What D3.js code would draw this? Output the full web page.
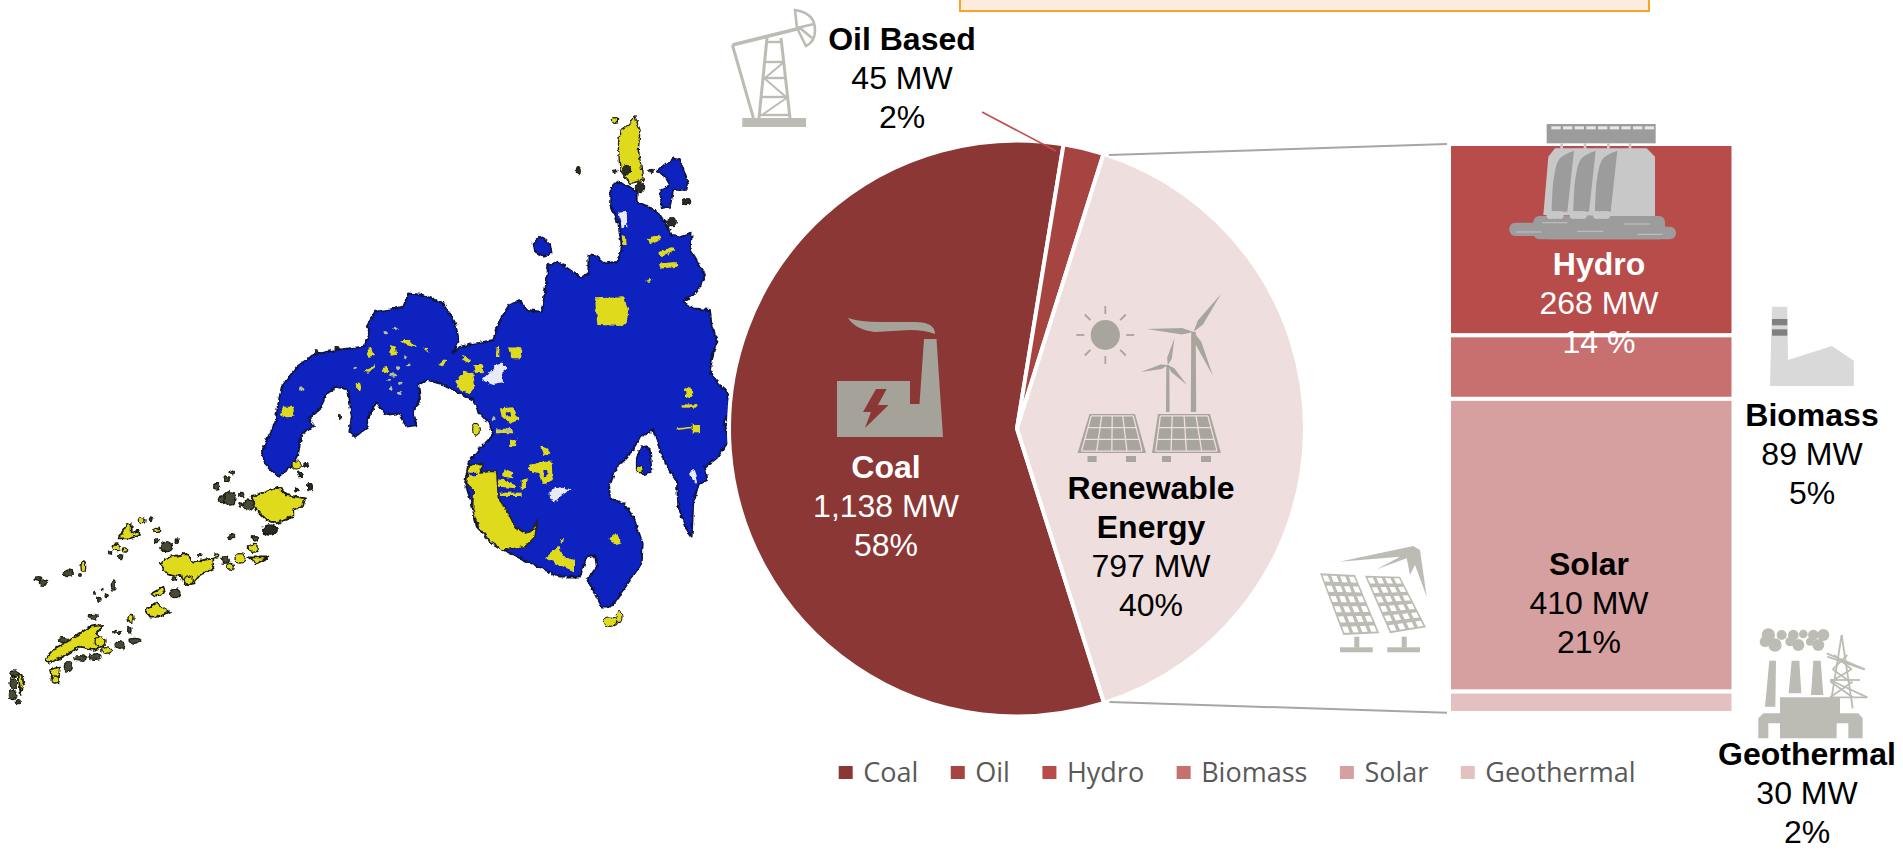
<!DOCTYPE html>
<html><head><meta charset="utf-8">
<script src="https://cdnjs.cloudflare.com/ajax/libs/d3/7.8.5/d3.min.js"></script>
<style>html,body{margin:0;padding:0;background:#fff;overflow:hidden}svg{display:block}text{font-family:"Liberation Sans",Arial,sans-serif}</style>
</head><body><svg id="c" width="1903" height="850"></svg>
<script>
// ---------- data ----------
const pieCategories = ["Coal", "Oil Based", "Renewable Energy"];
const pieValues = [1138, 45, 797];
const stackCategories = ["Hydro", "Biomass", "Solar", "Geothermal"];
const stackValues = [268, 89, 410, 30];
const legendItems = ["Coal", "Oil", "Hydro", "Biomass", "Solar", "Geothermal"];
const legendColors = ["#8B3735", "#A64442", "#B84C4A", "#C87070", "#D6A0A0", "#E3C1C1"];
const pieColors = ["#8B3735", "#A64442", "#EEDEDE"];
const stackColors = ["#B84C4A", "#C87070", "#D6A0A0", "#E3C1C1"];
const labelLines = [
  [["Oil Based",1],["45 MW",0],["2%",0]],
  [["Coal",1],["1,138 MW",0],["58%",0]],
  [["Renewable",1],["Energy",1],["797 MW",0],["40%",0]],
  [["Hydro",1],["268 MW",0],["14 %",0]],
  [["Solar",1],["410 MW",0],["21%",0]],
  [["Biomass",1],["89 MW",0],["5%",0]],
  [["Geothermal",1],["30 MW",0],["2%",0]]
];
const labelColors = ["#000","#fff","#000","#fff","#000","#000","#000"];
const labelAnchors = [[902,50],[886,478],[1151,499],[1599,275],[1589,575],[1812,426],[1807,765]];

// ---------- map geometry (traced outline, page px) ----------
const mainland = [[610.7,187.3],[616.7,181.7],[626.7,185],[636.7,191.7],[636.7,201.7],[648.3,206.7],[660,215],[666.7,225],[671.7,235],[681.7,236.7],[691.7,232.7],[690.7,250],[696.7,260],[705,275],[700,286.7],[693.3,295],[682.7,301.7],[693.3,308.3],[710,310],[711.7,326.7],[717.3,338.3],[713.3,353.3],[710,370],[718.3,383.3],[728.3,393.3],[728.3,413.3],[725,423.3],[728.3,441.7],[716.7,458.3],[705,466.7],[707.3,480],[698.3,485],[693.3,503.3],[691.7,536.7],[685,526.7],[678.3,506.7],[676.7,480],[666.7,466.7],[660,450],[653.3,430],[640,436.7],[636.7,443.3],[626.7,458.3],[616.7,466.7],[609.3,486.7],[610,498.3],[623.3,503.3],[633.3,516.7],[642.7,543.3],[641.7,563.3],[623.3,590],[611.7,606.7],[601.7,606.7],[595,593.3],[587.3,580],[596.7,566.7],[595,555],[586.7,556.7],[580,576.7],[560,576.7],[530,563.3],[503.3,550],[490,541.7],[476.7,526.7],[471.7,503.3],[465,483.3],[468.3,463.3],[480,448.3],[493.3,435],[490,425],[478.3,411.7],[473.3,400],[460,393.3],[440,383.3],[426.7,380],[418.3,385],[420,398.3],[413.3,411.7],[416.7,425],[406.7,426.7],[398.3,413.3],[385,415],[376.7,401.7],[366.7,420],[368.3,426.7],[355,436.7],[349.3,431.7],[351.7,416.7],[348.3,390],[336.7,386.7],[325,395],[321.7,406.7],[308.3,418.3],[315,426.7],[301.7,433.3],[298.3,453.3],[291.7,466.7],[278.3,476.7],[265,463.3],[261.7,451.7],[268.3,436.7],[275,423.3],[278.3,403.3],[281.7,386.7],[296.7,366.7],[313.3,355],[336.7,350],[363.3,346.7],[370,333.3],[366.7,326.7],[375,311.7],[390,309.3],[403.3,306.7],[408.3,293.3],[423.3,295],[443.3,303.3],[455,323.3],[459,340],[453.3,353.3],[460,346.7],[493.3,340],[498.3,323.3],[510,303.3],[520,300],[526.7,310],[541.7,311.7],[546.7,280],[548.3,265],[558.3,261.7],[570,270],[581.7,278.3],[588.3,273.3],[588.3,255],[596.7,256.7],[605,263.3],[618.3,261.7],[621.7,246.7],[618.3,223.3],[610,203.3]];
const crops = {a:[480,110],b:[260,290],c:[460,370],d:[0,470]};
const yellow = {
 a:[[[420,60],[445,45],[465,20],[480,60],[475,120],[490,210],[450,220],[420,180],[415,110]],
    [[345,565],[430,562],[445,600],[440,640],[430,648],[352,645]],
    [[503,385],[540,372],[545,388],[510,403]],[[535,430],[580,408],[585,422],[545,442]],[[538,460],[590,456],[592,470],[540,476]],[[495,515],[515,503],[510,515]],
    [[425,375],[438,380],[440,405],[428,405]],[[85,712],[125,715],[120,745],[95,745]],[[50,712],[58,712],[58,740],[48,738]]],
 b:[[[318,190],[330,170],[345,195],[325,200]],[[312,245],[345,222],[345,232],[325,248]],[[390,165],[405,170],[408,195],[392,197]],[[420,150],[450,150],[468,175],[440,165]],[[368,240],[380,225],[388,245],[372,250]],[[290,280],[300,275],[305,300],[292,300]],[[60,375],[70,350],[100,350],[103,380],[80,382]],[[490,175],[500,170],[505,190]],[[535,225],[555,208],[560,215],[545,228]],
    [[585,275],[610,245],[640,250],[645,290],[630,310],[600,300]],[[712,172],[718,172],[716,198],[708,195]],[[745,175],[775,172],[778,200],[755,205]],[[610,195],[630,210],[625,220],[610,210]],[[640,225],[670,225],[668,250],[645,248]]],
 c:[[[25,285],[70,280],[60,310],[85,305],[110,305],[115,385],[140,420],[165,470],[195,490],[220,480],[233,450],[225,500],[195,530],[160,535],[130,540],[90,515],[55,470],[38,420],[40,360],[20,340]],
    [[115,325],[165,345],[165,355],[115,350]],[[120,368],[185,368],[185,378],[120,378]],[[240,275],[275,275],[278,330],[250,345],[235,310],[205,300],[210,288]],[[130,295],[155,305],[160,325],[130,320]],[[120,115],[160,112],[178,150],[150,160],[125,140]],[[105,178],[155,175],[160,190],[110,190]],[[150,212],[170,208],[165,228],[150,230]],[[240,228],[260,235],[272,250],[250,258]],[[185,330],[205,325],[195,355],[185,358]],[[255,565],[295,530],[310,560],[345,570],[345,605],[310,590]],[[295,505],[312,505],[308,522]],[[445,505],[470,490],[485,520],[470,525]],[[675,60],[690,50],[700,70],[690,85],[678,80]],[[665,103],[712,103],[712,113],[665,113]],[[695,162],[720,162],[720,190],[695,190]],[[650,175],[695,170],[695,175],[650,180]]]
};
const blueOverYellow = {
 c:[[[135,125],[150,128],[155,140],[140,138]],[[25,308],[50,308],[48,316],[25,316]],[[115,355],[160,358],[160,365],[115,363]],[[250,300],[262,300],[262,320],[252,322]]]
};
const blueIslands = {
 a:[[[160,400],[180,380],[210,400],[215,430],[190,438],[165,425]],[[530,185],[580,145],[600,150],[625,220],[620,240],[580,240],[570,290],[545,295],[540,240],[570,225],[555,200]]],
 c:[[[545,225],[570,240],[575,305],[555,315],[530,300],[530,265]]]
};
const whitePatches = {
 a:[[[415,305],[440,302],[442,350],[425,355]]],
 b:[[[665,270],[710,225],[725,220],[742,235],[725,250],[730,280],[700,285]]],
 c:[[[268,365],[290,350],[332,358],[300,380],[285,395],[270,385]],[[690,305],[705,300],[715,340],[695,330]]]
};
const sulu = [
 [[755,80],[800,65],[835,50],[860,75],[915,85],[910,105],[880,120],[880,140],[830,160],[800,150],[770,120]],
 [[480,280],[510,260],[560,252],[580,275],[640,265],[640,295],[600,315],[580,340],[555,345],[545,320],[500,310]],
 [[380,165],[395,160],[395,190],[415,180],[420,195],[390,205],[355,205]],
 [[452,372],[490,350],[495,365],[465,382]],
 [[438,420],[470,395],[485,410],[510,425],[480,440],[450,440]],
 [[135,570],[165,535],[210,510],[270,470],[310,465],[290,490],[310,530],[280,540],[240,530],[190,560],[150,578]],
 [[150,600],[180,590],[175,640],[160,640]],
 [[745,262],[805,262],[770,280]],
 [[55,610],[65,615],[72,645],[62,672],[58,640]]
];
// islets: [x, y, rx, ry, yellow?]
const islets = [[665,88,10,10,0],[690,85,18,20,0],[745,105,15,15,0],[810,180,22,15,0],[695,200,9,6,0],[765,205,8,8,0],[650,50,9,10,0],[680,28,8,8,0],[725,75,6,8,0],[722,105,5,6,0],[890,60,6,6,0],[930,50,7,9,0],[695,8,5,5,0],[500,230,18,15,0],[470,180,9,8,1],[470,212,6,6,0],[530,215,5,5,0],[425,152,10,9,1],[452,148,4,4,0],[350,232,11,10,1],[375,240,8,6,1],[362,260,6,6,0],[330,247,5,5,0],[205,310,15,10,0],[250,290,7,14,1],[240,315,4,4,0],[115,325,10,5,0],[130,338,12,8,0],[340,345,6,15,0],[282,368,4,4,0],[305,358,4,4,0],[320,378,5,5,0],[298,388,5,6,0],[525,370,15,13,0],[280,440,15,7,0],[393,445,9,12,1],[345,485,4,4,0],[360,487,4,4,0],[388,482,5,10,0],[360,525,15,10,0],[405,512,18,7,0],[190,510,15,7,0],[300,515,15,15,1],[320,540,15,10,1],[285,560,18,8,0],[205,590,12,15,0],[240,565,18,8,0],[675,270,10,10,0],[690,290,10,10,1],[720,265,15,14,1],[760,235,15,12,1],[598,255,5,5,0],[650,258,6,6,1],[522,325,5,5,0],[565,330,12,12,1],[42,610,12,10,0],[40,640,10,16,0],[38,675,10,14,0],[55,695,6,6,0],[165,630,12,12,1]];
const isletsMain = [[[405,30,8,10,1],[295,182,6,12,0],[620,275,12,9,0],[405,185,6,5,0],[515,183,6,5,0],[480,232,14,16,0],[575,335,14,12,0],[440,180,12,14,0]],
 [[168,185,5,6,0],[232,175,7,5,0],[240,380,5,5,0],[110,525,14,12,1],[138,525,7,7,0],[120,553,7,7,0],[112,598,6,6,0],[150,592,7,11,0],[28,720,20,15,0],[648,418,10,18,1]],
 [[450,755,20,14,1],[477,740,9,18,1],[540,298,9,10,1]]];
const paleDots = [[405,115,8,5],[375,128,7,5],[435,200,6,6],[287,235,7,5],[415,235,6,6],[445,225,7,4],[400,255,9,5],[385,268,5,5],[420,280,6,5],[395,295,5,8],[420,310,7,5],[125,298,8,6],[700,385,6,6],[715,420,7,5],[745,420,9,7]];

// ---------- setup ----------
const svg = d3.select("#c");
const toPage = k => p => [crops[k][0]+p[0]/3, crops[k][1]+p[1]/3];
const sharp = d3.line().curve(d3.curveLinearClosed);
const defs = svg.append("defs");
const filt = defs.append("filter").attr("id","soft").attr("filterUnits","userSpaceOnUse").attr("x",0).attr("y",90).attr("width",760).attr("height",640);
filt.append("feTurbulence").attr("type","fractalNoise").attr("baseFrequency",0.22).attr("numOctaves",2).attr("seed",4).attr("result","n");
filt.append("feDisplacementMap").attr("in","SourceGraphic").attr("in2","n").attr("scale",4.5).attr("xChannelSelector","R").attr("yChannelSelector","G").attr("result","d");
filt.append("feGaussianBlur").attr("in","d").attr("stdDeviation",0.65);

// ---------- map ----------
const mapG = svg.append("g").attr("filter","url(#soft)");
const outlineC = "#10143c";
const mapPoly = (pts, fill, stroke, sw) => mapG.append("path").attr("d",sharp(pts)).attr("fill",fill).attr("stroke",stroke).attr("stroke-width",sw).attr("stroke-linejoin","round");
const blue = "#0820BE", yel = "#E0DA1F";
mapPoly(mainland, blue, outlineC, 1.8);
Object.entries(blueIslands).forEach(([k,l])=>l.forEach(p=>mapPoly(p.map(toPage(k)),blue,outlineC,1.6)));
Object.entries(yellow).forEach(([k,l])=>l.forEach((p,i)=>{
  const isEdge = (k==="a"&&i===0)||(k==="c"&&i===0);
  mapPoly(p.map(toPage(k)),yel,isEdge?"#222":"none",isEdge?1.4:0);
}));
Object.entries(blueOverYellow).forEach(([k,l])=>l.forEach(p=>mapPoly(p.map(toPage(k)),blue,"none",0)));
Object.entries(whitePatches).forEach(([k,l])=>l.forEach(p=>mapPoly(p.map(toPage(k)),"#E8EAF5","none",0)));
sulu.forEach(p=>mapPoly(p.map(toPage("d")),yel,"#1c1c10",1.8));
mapG.selectAll("ellipse.i").data(islets).join("ellipse").attr("class","i")
  .attr("cx",d=>d[0]/3).attr("cy",d=>470+d[1]/3).attr("rx",d=>d[2]/3).attr("ry",d=>d[3]/3)
  .attr("fill",d=>d[4]?yel:"#4a4a38").attr("stroke","#1c1c10").attr("stroke-width",1.3);
["a","b","c"].forEach((k,i)=>mapG.selectAll("ellipse.m"+k).data(isletsMain[i]).join("ellipse").attr("class","m"+k)
  .attr("cx",d=>crops[k][0]+d[0]/3).attr("cy",d=>crops[k][1]+d[1]/3).attr("rx",d=>d[2]/3).attr("ry",d=>d[3]/3)
  .attr("fill",d=>d[4]?yel:"#2a2a28").attr("stroke","#1c1c10").attr("stroke-width",1.1));
mapG.selectAll("ellipse.p").data(paleDots).join("ellipse").attr("class","p")
  .attr("cx",d=>crops.b[0]+d[0]/3).attr("cy",d=>crops.b[1]+d[1]/3).attr("rx",d=>d[2]/3).attr("ry",d=>d[3]/3)
  .attr("fill","#B9C08A");

// ---------- top box ----------
svg.append("rect").attr("x",960).attr("y",-10).attr("width",689).attr("height",21)
   .attr("fill","#FDEBDD").attr("stroke","#F5A623").attr("stroke-width",2);

// ---------- pie ----------
const pieG = svg.append("g").attr("transform","translate(1017,428.5)");
const startA = 162.4*Math.PI/180;
const pie = d3.pie().sort(null).startAngle(startA).endAngle(startA+2*Math.PI);
const arc = d3.arc().innerRadius(0).outerRadius(288);
pieG.selectAll("path").data(pie(pieValues)).join("path")
   .attr("d",arc).attr("fill",(d,i)=>pieColors[i]).attr("stroke","#fff").attr("stroke-width",4).attr("stroke-linejoin","miter");

// ---------- stacked bar ----------
const yS = d3.scaleLinear().domain([0,d3.sum(stackValues)]).range([144,713]);
let acc=0; const stacked = stackValues.map((v,i)=>{const s={i,y0:acc,y1:acc+v};acc+=v;return s;});
svg.append("g").selectAll("rect").data(stacked).join("rect")
   .attr("x",1449).attr("width",284.5).attr("y",d=>yS(d.y0)).attr("height",d=>yS(d.y1)-yS(d.y0))
   .attr("fill",d=>stackColors[d.i]).attr("stroke","#fff").attr("stroke-width",4);

// connectors
const lineG = svg.append("g").attr("fill","none");
lineG.append("path").attr("d",d3.line()([[982,112],[1056,151]])).attr("stroke","#C0504D").attr("stroke-width",1.6);
lineG.append("path").attr("d",d3.line()([[1109,155],[1447,144]])).attr("stroke","#A6A6A6").attr("stroke-width",2);
lineG.append("path").attr("d",d3.line()([[1109.5,702],[1447,712.7]])).attr("stroke","#A6A6A6").attr("stroke-width",2);

// ---------- icons ----------
const icons = svg.append("g");
const poly = (pts,fill) => icons.append("path").attr("d",sharp(pts)).attr("fill",fill);
const seg = (a,b,c,w) => icons.append("line").attr("x1",a[0]).attr("y1",a[1]).attr("x2",b[0]).attr("y2",b[1]).attr("stroke",c).attr("stroke-width",w);
const lerp=(a,b,t)=>[a[0]+(b[0]-a[0])*t,a[1]+(b[1]-a[1])*t];
function panel(tl,tr,br,bl,cols,rows,frame,cell,pad){
  poly([tl,tr,br,bl],frame);
  for(let r=0;r<rows;r++)for(let c=0;c<cols;c++){
    const P=(u,v)=>lerp(lerp(tl,tr,u),lerp(bl,br,u),v);
    const u0=(c+pad)/cols,u1=(c+1-pad)/cols,v0=(r+pad)/rows,v1=(r+1-pad)/rows;
    poly([P(u0,v0),P(u1,v0),P(u1,v1),P(u0,v1)],cell);
  }
}
function panelLines(tl,tr,br,bl,cols,rows,frame,lineC){
  poly([tl,tr,br,bl],frame);
  const ins=0.05;
  const P=(u,v)=>lerp(lerp(tl,tr,u),lerp(bl,br,u),v);
  d3.range(0,cols+1).forEach(c=>{const u=ins+(1-2*ins)*c/cols;seg(P(u,ins),P(u,1-ins),lineC,1.3);});
  d3.range(0,rows+1).forEach(r=>{const v=ins+(1-2*ins)*r/rows;seg(P(ins,v),P(1-ins,v),lineC,1.3);});
}
// oil pump
const oilC="#BDBCB4";
icons.append("rect").attr("x",742.3).attr("y",118).attr("width",63.7).attr("height",9).attr("fill",oilC);
seg([732.4,45],[800.8,28],oilC,3.5); seg([732.4,45],[753.4,118],oilC,3);
seg([767,38],[759,118],oilC,3); seg([781,38],[790,118],oilC,3);
[[766,42,782,42],[764,62,784,62],[763,78,786,78],[761,97,788,97],[760,115,789,115]].forEach(s=>seg([s[0],s[1]],[s[2],s[3]],oilC,2.4));
seg([765,78],[784,62],oilC,2); seg([764,78],[786,97],oilC,2); seg([762,115],[788,97],oilC,2);
icons.append("path").attr("d","M795,10 Q815,13 815,30 Q815,42 806,46 L797,28 Z M797,28 L814,24 M800,28 L812,38").attr("fill","none").attr("stroke",oilC).attr("stroke-width",2.6);
// coal
const coalI="#A5A299";
icons.append("path").attr("d","M848,318 Q860,322 880,322 L915,322 Q935,322 935,334 Q925,330 910,330 L875,332 Q856,330 848,318Z").attr("fill",coalI);
poly([[837,381],[910,381],[910,404],[919.5,404],[924,339],[936.5,339],[943,437],[837,437]],coalI);
poly([[876,389],[886.6,389],[878,405],[888.6,405],[865,428],[871,412],[863,412]],"#8B3735");
// renewable
const renI="#A8A59C";
icons.append("ellipse").attr("cx",1105.3).attr("cy",335).attr("rx",14.6).attr("ry",15).attr("fill",renI);
d3.range(8).forEach(i=>{const a=i*Math.PI/4;seg([1105.3+21*Math.cos(a),335+21*Math.sin(a)],[1105.3+29*Math.cos(a),335+29*Math.sin(a)],renI,1.8);});
function turbine(h,w,bottom,tips,bw){
  poly([[h[0]-w*0.5,h[1]],[h[0]+w*0.5,h[1]],[h[0]+w*0.6,bottom],[h[0]-w*0.6,bottom]],renI);
  tips.forEach(t=>{const dx=t[0]-h[0],dy=t[1]-h[1],L=Math.hypot(dx,dy),nx=-dy/L*bw,ny=dx/L*bw;
    const m=[h[0]+dx*.25,h[1]+dy*.25];
    poly([[h[0],h[1]],[m[0]+nx,m[1]+ny],t,[m[0]-nx,m[1]-ny]],renI);});
}
turbine([1193.5,332],4.5,412,[[1221,294],[1147,329],[1213,376]],3.2);
turbine([1167.8,365],3,412,[[1174.5,338],[1141,372],[1187,385]],2.4);
panelLines([1089.5,414],[1135,414],[1146,453],[1077.6,453],4,3,renI,"#EEDEDE");
panelLines([1158,414],[1210,414],[1221,453],[1152,453],4,3,renI,"#EEDEDE");
[[1087.5,1096.6],[1126,1136],[1162,1171],[1201,1211]].forEach(l=>icons.append("rect").attr("x",l[0]).attr("y",456).attr("width",l[1]-l[0]).attr("height",6).attr("fill",renI));
// biomass
poly([[1772,306.7],[1787.3,306.7],[1788,360],[1832,346],[1853.8,360.7],[1853.8,386],[1770,386]],"#D9D9D9");
[[319,6.3],[329.3,6.4]].forEach(b=>icons.append("rect").attr("x",1772).attr("y",b[0]).attr("width",15.3).attr("height",b[1]).attr("fill","#808080"));
// solar
const solC="#BDBCB4";
panel([1320,573.3],[1355,575],[1379.3,633.3],[1343.3,635],4,6,solC,"#fff",0.2);
panel([1365,575.7],[1400,576.7],[1426,627.3],[1390,633.3],4,6,solC,"#fff",0.2);
poly([[1339.3,561.7],[1413.3,546],[1420,550],[1426.7,596.7],[1415,565],[1410,575],[1406.7,558.3],[1376.7,569.3],[1400,556.7]],solC);
[[1340,1354.3],[1387.3,1401.7]].forEach(l=>{
  icons.append("rect").attr("x",l[0]).attr("y",647.3).attr("width",32.7).attr("height",5).attr("fill",solC);
  icons.append("rect").attr("x",l[1]).attr("y",636.7).attr("width",5).attr("height",11).attr("fill",solC);
});
// geothermal
const gx=v=>1710+v/3, gy=v=>610+v/3, G=p=>[gx(p[0]),gy(p[1])];
const geoC="#BDBCB4";
[[175,75,20],[165,95,16],[195,105,20],[215,75,15],[250,75,16],[240,95,14],[265,105,18],[280,72,13],[310,75,16],[300,95,12],[325,105,18],[340,75,18]].forEach(c=>icons.append("circle").attr("cx",gx(c[0])).attr("cy",gy(c[1])).attr("r",c[2]/3).attr("fill",geoC));
poly([[178,152],[198,152],[196,290],[165,290]].map(G),geoC);
poly([[245,152],[268,152],[274,250],[236,250]].map(G),geoC);
poly([[310,152],[332,152],[340,255],[303,255]].map(G),geoC);
poly([[145,385],[145,325],[160,310],[210,310],[210,262],[390,262],[390,310],[445,310],[458,325],[458,385],[415,385],[415,340],[380,340],[380,385],[210,385],[210,340],[175,340],[175,385]].map(G),geoC);
[[[395,75],[365,262]],[[395,75],[428,295]],[[350,130],[465,178]],[[352,140],[462,178]],[[360,210],[450,210]],[[360,210],[472,262]],[[372,135],[425,178]],[[412,135],[368,178]],[[368,178],[420,215]],[[425,178],[362,215]],[[362,215],[428,262]],[[428,215],[360,262]],[[360,262],[472,262]]].forEach(s=>seg(G(s[0]),G(s[1]),geoC,1.8));
// hydro
const hx=v=>1480+v/3, hy=v=>110+v/3, H=p=>[hx(p[0]),hy(p[1])];
const hd="#9C9C9C", hl="#C8C8C8";
const hr=(x0,y0,x1,y1,f,r=0)=>icons.append("rect").attr("x",hx(x0)).attr("y",hy(y0)).attr("width",(x1-x0)/3).attr("height",(y1-y0)/3).attr("rx",r).attr("fill",f);
hr(200,42,527,100,hd);
d3.range(9).forEach(i=>hr(214+i*35,49,242+i*35,58,"#E8E8E8"));
[245,315,385,450].forEach(x=>hr(x-4,100,x+4,118,hl));
poly([[190,315],[205,140],[225,115],[500,115],[525,140],[525,320]].map(H),hl);
[0,65,130].forEach(d=>icons.append("path").attr("d",d3.line().curve(d3.curveCatmullRom)([[215+d,305],[222+d,200],[240+d,145],[282+d,122]].map(H))+"L"+H([262+d,305]).join(",")+"Z").attr("fill",hd));
hr(88,338,215,378,hd,6); hr(160,318,555,388,hd,6); hr(190,350,588,388,hd,6);
[225,295,365].forEach(x=>{[-14,0,14].forEach(d=>icons.append("circle").attr("cx",hx(x+d)).attr("cy",hy(315)).attr("r",4).attr("fill",hl));});
[[186,338,262,338],[108,366,185,366],[292,364,370,364],[432,342,510,342],[472,373,548,373]].forEach(s=>seg(H([s[0],s[1]]),H([s[2],s[3]]),"#BEBEBE",1.2));

// ---------- labels ----------
const lh = 39;
labelLines.forEach((lines,i)=>{
  const isLast = i===labelLines.length-1;
  svg.append("text").attr("text-anchor","middle").attr("font-size",32).attr("fill",labelColors[i])
    .selectAll("tspan").data(lines).join("tspan")
    .attr("x",labelAnchors[i][0]).attr("y",(d,j)=>labelAnchors[i][1]+j*lh)
    .attr("font-weight",d=>d[1]?"bold":"normal").text(d=>d[0]);
});

// ---------- legend ----------
const legG = svg.append("g").attr("transform","translate(838.7,782)");
let lx=0;
legendItems.forEach((name,i)=>{
  const g=legG.append("g").attr("transform",`translate(${lx},0)`);
  g.append("rect").attr("x",0).attr("y",-16).attr("width",14).attr("height",13).attr("fill",legendColors[i]);
  const t=g.append("text").attr("x",24.5).style("font-family","'Open Sans',sans-serif").attr("font-size",27).attr("fill","#595959").text(name);
  lx += 24.5 + t.node().getComputedTextLength() + 32.5;
});
</script></body></html>
